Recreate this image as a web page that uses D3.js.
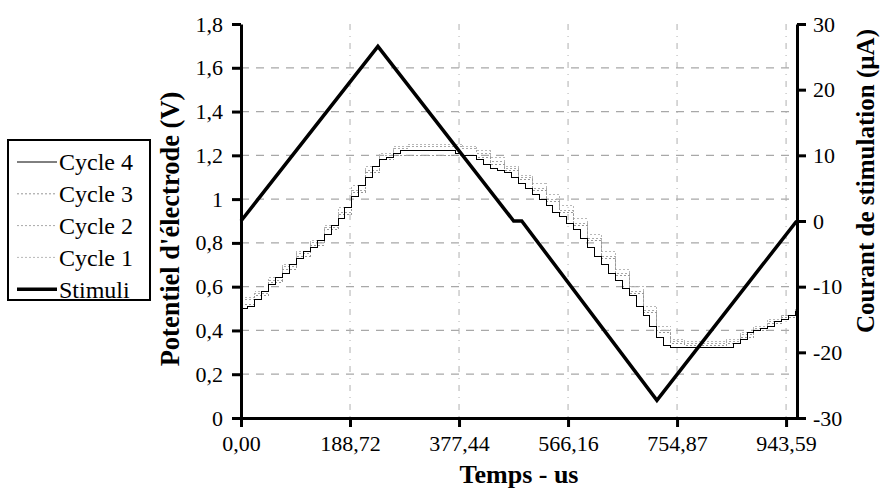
<!DOCTYPE html>
<html>
<head>
<meta charset="utf-8">
<script src="https://cdn.jsdelivr.net/npm/d3@7"></script>
<style>
  html, body { margin: 0; padding: 0; background: #fff; }
  svg { display: block; }
  text { font-family: "Liberation Serif", "DejaVu Serif", "Times New Roman", serif; fill: #000; }
</style>
</head>
<body>
<svg id="chart" width="883" height="495"></svg>
<script>
// Time axis (µs) and tick labels
const timeTicks = [0, 188.72, 377.44, 566.16, 754.87, 943.59];
const timeMax = 962.5;
const voltTicks = [0, 0.2, 0.4, 0.6, 0.8, 1, 1.2, 1.4, 1.6, 1.8];
const currentTicks = [-30, -20, -10, 0, 10, 20, 30];

// Stimulation current (µA) vs time (µs)
const stimTime = [0, 237, 472, 486, 720, 962];
const stimCurrent = [0, 26.6, 0, 0, -27.3, 0];

// Electrode potential (V), cycle 4 sampled every 12 µs
const cycle4Time = d3.range(0, 961, 12);
const cycle4 = [
  0.50, 0.51, 0.54, 0.58, 0.61, 0.64, 0.66, 0.70, 0.73, 0.76, 0.78, 0.81,
  0.84, 0.88, 0.91, 0.96, 1.01, 1.06, 1.10, 1.15, 1.18, 1.19, 1.21, 1.22,
  1.22, 1.22, 1.22, 1.22, 1.22, 1.22, 1.22, 1.21, 1.20, 1.20, 1.18, 1.16,
  1.14, 1.13, 1.12, 1.10, 1.07, 1.05, 1.02, 1.00, 0.97, 0.94, 0.92, 0.89,
  0.86, 0.82, 0.78, 0.74, 0.70, 0.66, 0.63, 0.59, 0.56, 0.51, 0.47, 0.42,
  0.37, 0.33, 0.32, 0.32, 0.32, 0.32, 0.32, 0.32, 0.32, 0.32, 0.32, 0.34,
  0.36, 0.39, 0.40, 0.41, 0.42, 0.44, 0.45, 0.47, 0.49
];

// Cycles 1 to 3 sampled every 24 µs
const cycleTime = d3.range(0, 961, 24);
const cycle3 = [
  0.52, 0.56, 0.62, 0.68, 0.74, 0.79, 0.86, 0.93, 1.03, 1.12, 1.18, 1.20,
  1.20, 1.20, 1.20, 1.20, 1.20, 1.19, 1.16, 1.13, 1.09, 1.04, 0.99, 0.94,
  0.88, 0.81, 0.73, 0.65, 0.57, 0.48, 0.39, 0.34, 0.33, 0.33, 0.33, 0.34,
  0.37, 0.40, 0.43, 0.46, 0.49
];
const cycle2 = [
  0.54, 0.57, 0.63, 0.69, 0.75, 0.80, 0.87, 0.94, 1.04, 1.13, 1.20, 1.23,
  1.24, 1.24, 1.24, 1.24, 1.23, 1.21, 1.17, 1.14, 1.10, 1.05, 1.00, 0.95,
  0.89, 0.82, 0.74, 0.66, 0.58, 0.49, 0.40, 0.35, 0.34, 0.34, 0.34, 0.35,
  0.38, 0.41, 0.44, 0.47, 0.50
];
const cycle1 = [
  0.55, 0.58, 0.64, 0.70, 0.76, 0.81, 0.88, 0.96, 1.06, 1.15, 1.21, 1.24,
  1.25, 1.25, 1.25, 1.25, 1.24, 1.22, 1.19, 1.15, 1.11, 1.07, 1.02, 0.97,
  0.91, 0.84, 0.76, 0.68, 0.60, 0.51, 0.42, 0.36, 0.35, 0.35, 0.35, 0.36,
  0.39, 0.42, 0.45, 0.47, 0.50
];

const legendLabels = ["Cycle 4", "Cycle 3", "Cycle 2", "Cycle 1", "Stimuli"];

const svg = d3.select("#chart");
const plot = { left: 241, right: 797, top: 24, bottom: 418 };
const serif = '"Liberation Serif", "DejaVu Serif", "Times New Roman", serif';

const x = d3.scaleLinear().domain([0, timeMax]).range([plot.left, plot.right]);
const yV = d3.scaleLinear().domain([0, 1.8]).range([plot.bottom, plot.top]);
const yI = d3.scaleLinear().domain([-30, 30]).range([plot.bottom, plot.top]);

const fmtComma = (d, digits) => d.toFixed(digits).replace(".", ",");
const voltFmt = d => (d === 0 || d === 1) ? String(d) : fmtComma(d, 1);

// Grid lines
const grid = svg.append("g");
grid.selectAll("line.h")
  .data(voltTicks.filter(v => v > 0 && v < 1.8))
  .join("line")
  .attr("x1", plot.left).attr("x2", plot.right)
  .attr("y1", d => yV(d)).attr("y2", d => yV(d))
  .attr("stroke", "#a8a8a8").attr("stroke-width", 1.2)
  .attr("stroke-dasharray", "8,7");
grid.selectAll("line.v")
  .data(timeTicks.filter(t => t > 0))
  .join("line")
  .attr("x1", d => x(d)).attr("x2", d => x(d))
  .attr("y1", plot.top).attr("y2", plot.bottom)
  .attr("stroke", "#b0b0b0").attr("stroke-width", 1)
  .attr("stroke-dasharray", "6,6,1,6");

// Potential series
const stepLine = (times) => d3.line()
  .x((d, i) => x(times[i]))
  .y(d => yV(d))
  .curve(d3.curveStepAfter);

const lightSeries = [
  { values: cycle1, color: "#b8b8b8" },
  { values: cycle2, color: "#a8a8a8" },
  { values: cycle3, color: "#989898" }
];
svg.append("g").selectAll("path")
  .data(lightSeries)
  .join("path")
  .attr("d", d => stepLine(cycleTime)(d.values))
  .attr("fill", "none")
  .attr("stroke", d => d.color)
  .attr("stroke-width", 1)
  .attr("stroke-dasharray", "2,2")
  .attr("shape-rendering", "crispEdges");

svg.append("path")
  .attr("d", stepLine(cycle4Time)(cycle4))
  .attr("fill", "none")
  .attr("stroke", "#000")
  .attr("stroke-width", 1)
  .attr("shape-rendering", "crispEdges");

// Stimulation current
const stimLine = d3.line()
  .x((d, i) => x(stimTime[i]))
  .y(d => yI(d));
svg.append("path")
  .attr("d", stimLine(stimCurrent))
  .attr("fill", "none")
  .attr("stroke", "#000")
  .attr("stroke-width", 3.5)
  .attr("stroke-linejoin", "miter");

// Axes
const axisStyle = g => {
  g.attr("font-family", serif);
  g.select(".domain").attr("stroke", "#000").attr("stroke-width", 3);
  g.selectAll(".tick line").attr("stroke", "#000").attr("stroke-width", 3);
  g.selectAll(".tick text").style("font-size", "22px").style("font-family", serif);
};

svg.append("g")
  .attr("transform", `translate(${plot.left},0)`)
  .call(d3.axisLeft(yV).tickValues(voltTicks).tickFormat(voltFmt)
    .tickSizeInner(9).tickSizeOuter(0).tickPadding(9))
  .call(axisStyle);

svg.append("g")
  .attr("transform", `translate(${plot.right},0)`)
  .call(d3.axisRight(yI).tickValues(currentTicks).tickFormat(d => String(d))
    .tickSizeInner(9).tickSizeOuter(0).tickPadding(7))
  .call(axisStyle);

svg.append("g")
  .attr("transform", `translate(0,${plot.bottom})`)
  .call(d3.axisBottom(x).tickValues(timeTicks).tickFormat(d => fmtComma(d, 2))
    .tickSizeInner(9).tickSizeOuter(0).tickPadding(8))
  .call(axisStyle);

// Axis titles
svg.append("text")
  .attr("x", (plot.left + plot.right) / 2).attr("y", 483)
  .attr("text-anchor", "middle")
  .style("font-size", "26px").style("font-weight", "bold")
  .text("Temps - us");

svg.append("text")
  .attr("transform", "translate(179,229) rotate(-90)")
  .attr("text-anchor", "middle")
  .style("font-size", "26.5px").style("font-weight", "bold")
  .text("Potentiel d'électrode (V)");

svg.append("text")
  .attr("transform", "translate(874,181) rotate(-90)")
  .attr("text-anchor", "middle")
  .style("font-size", "25px").style("font-weight", "bold")
  .text("Courant de stimulation (µA)");

// Legend
const legend = svg.append("g");
legend.append("rect")
  .attr("x", 8).attr("y", 140).attr("width", 142).attr("height", 160)
  .attr("fill", "#fff").attr("stroke", "#000").attr("stroke-width", 2);

const legendStyles = [
  { color: "#000", width: 1, dash: null },
  { color: "#989898", width: 1, dash: "2,2" },
  { color: "#a8a8a8", width: 1, dash: "2,2" },
  { color: "#b8b8b8", width: 1, dash: "2,2" },
  { color: "#000", width: 3.5, dash: null }
];
const rows = legend.selectAll("g.row")
  .data(legendLabels)
  .join("g")
  .attr("transform", (d, i) => `translate(0,${162 + i * 31.8})`);
rows.append("line")
  .attr("x1", 17).attr("x2", 57).attr("y1", 0).attr("y2", 0)
  .attr("stroke", (d, i) => legendStyles[i].color)
  .attr("stroke-width", (d, i) => legendStyles[i].width)
  .attr("stroke-dasharray", (d, i) => legendStyles[i].dash);
rows.append("text")
  .attr("x", 59).attr("y", 0).attr("dy", "0.35em")
  .style("font-size", "24px")
  .text(d => d);
</script>
</body>
</html>
